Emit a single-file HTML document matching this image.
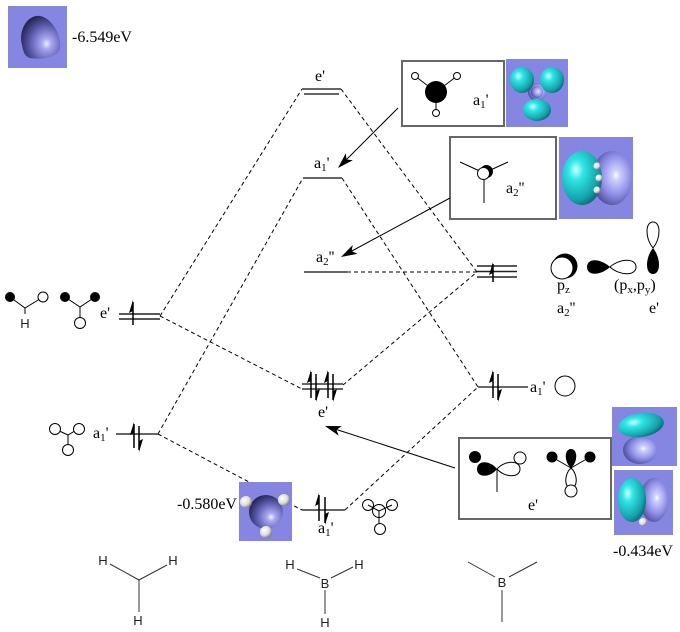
<!DOCTYPE html>
<html><head><meta charset="utf-8"><style>
html,body{margin:0;padding:0;background:#fff;}
svg{display:block;}
.t{font-family:"Liberation Serif",serif;font-size:16px;fill:#000;}
.s{font-family:"Liberation Sans",sans-serif;font-size:13px;fill:#222;}
</style></head><body>
<svg width="680" height="632" viewBox="0 0 680 632" xmlns="http://www.w3.org/2000/svg">
<defs>
<radialGradient id="cy" cx="0.35" cy="0.35" r="0.75"><stop offset="0" stop-color="#d0ffff"/><stop offset="0.25" stop-color="#30e6e6"/><stop offset="0.75" stop-color="#14a0a8"/><stop offset="1" stop-color="#0a5868"/></radialGradient>
<radialGradient id="lv" cx="0.6" cy="0.45" r="0.75"><stop offset="0" stop-color="#ffffff"/><stop offset="0.12" stop-color="#d0d0ff"/><stop offset="0.5" stop-color="#8c8ce6"/><stop offset="0.9" stop-color="#3c3c84"/><stop offset="1" stop-color="#222250"/></radialGradient>
<radialGradient id="dk" cx="0.65" cy="0.65" r="0.8"><stop offset="0" stop-color="#f0f0ff"/><stop offset="0.15" stop-color="#a8a8f4"/><stop offset="0.55" stop-color="#5858a8"/><stop offset="1" stop-color="#101030"/></radialGradient>
<radialGradient id="wb" cx="0.35" cy="0.35" r="0.7"><stop offset="0" stop-color="#ffffff"/><stop offset="0.6" stop-color="#dddddd"/><stop offset="1" stop-color="#777777"/></radialGradient>
</defs>

<!-- top-left orbital image -->
<rect x="8" y="6" width="59" height="62" fill="#8585e2"/>
<path d="M22,45 C18,30 28,14 40,16 C52,18 62,36 60,48 C58,58 40,60 30,58 C24,56 23,50 22,45 Z" fill="url(#dk)"/>
<text class="t" x="72" y="42">-6.549eV</text>

<!-- dashed connectors -->
<g stroke="#000" stroke-width="1" stroke-dasharray="4,3" fill="none">
<line x1="160" y1="316" x2="302" y2="89"/>
<line x1="341" y1="89" x2="477" y2="272"/>
<line x1="158" y1="434" x2="303" y2="178"/>
<line x1="342" y1="178" x2="478" y2="387"/>
<line x1="347" y1="272" x2="477" y2="272"/>
<line x1="160" y1="316" x2="302" y2="389"/>
<line x1="343" y1="385" x2="477" y2="272"/>
<line x1="158" y1="434" x2="302" y2="510"/>
<line x1="345" y1="510" x2="478" y2="387"/>
</g>

<!-- levels -->
<g stroke="#666" stroke-width="2" fill="none">
<line x1="302" y1="89" x2="341" y2="89"/>
<line x1="304" y1="94" x2="339" y2="94"/>
<line x1="303" y1="178" x2="342" y2="178"/>
<line x1="304" y1="272" x2="347" y2="272"/>
<line x1="302" y1="384" x2="343" y2="384"/>
<line x1="302" y1="389" x2="343" y2="389"/>
<line x1="478" y1="387" x2="528" y2="387"/>
<line x1="116" y1="434" x2="158" y2="434"/>
<line x1="302" y1="510" x2="345" y2="510"/>
</g>
<g stroke="#222" stroke-width="1.5" fill="none">
<line x1="119" y1="314" x2="160" y2="314"/>
<line x1="119" y1="319" x2="160" y2="319"/>
<line x1="477" y1="266" x2="517" y2="266"/>
<line x1="477" y1="271.5" x2="517" y2="271.5"/>
<line x1="477" y1="277" x2="517" y2="277"/>
</g>

<!-- electrons -->
<g stroke="#000" stroke-width="1.5" fill="#000">
<!-- left e' -->
<line x1="133" y1="302" x2="133" y2="325"/><polygon points="133,300 129,313 133,311" stroke="none"/>
<!-- right p -->
<line x1="493" y1="264" x2="493" y2="282"/><polygon points="493,262 489,275 493,273" stroke="none"/>
<!-- middle e' -->
<line x1="311" y1="372" x2="311" y2="398"/><polygon points="311,370 307,383 311,381" stroke="none"/>
<line x1="316" y1="374" x2="316" y2="400"/><polygon points="316,402 320,389 316,391" stroke="none"/>
<line x1="328" y1="372" x2="328" y2="398"/><polygon points="328,370 324,383 328,381" stroke="none"/>
<line x1="333" y1="374" x2="333" y2="400"/><polygon points="333,402 337,389 333,391" stroke="none"/>
<!-- right a1' -->
<line x1="493" y1="372" x2="493" y2="398"/><polygon points="493,370 489,383 493,381" stroke="none"/>
<line x1="498" y1="374" x2="498" y2="400"/><polygon points="498,402 502,389 498,391" stroke="none"/>
<!-- left a1' -->
<line x1="134" y1="424" x2="134" y2="448"/><polygon points="134,422 130,435 134,433" stroke="none"/>
<line x1="139" y1="426" x2="139" y2="450"/><polygon points="139,452 143,439 139,441" stroke="none"/>
<!-- bottom a1' -->
<line x1="319" y1="495" x2="319" y2="521"/><polygon points="319,493 315,506 319,504" stroke="none"/>
<line x1="325" y1="497" x2="325" y2="523"/><polygon points="325,525 329,512 325,514" stroke="none"/>
</g>

<!-- level labels -->
<text class="t" x="315" y="81">e'</text>
<text class="t" x="314" y="168">a<tspan font-size="11" dy="3">1</tspan><tspan dy="-3">'</tspan></text>
<text class="t" x="316" y="262">a<tspan font-size="11" dy="3">2</tspan><tspan dy="-3">''</tspan></text>
<text class="t" x="318" y="417">e'</text>
<text class="t" x="530" y="392">a<tspan font-size="11" dy="3">1</tspan><tspan dy="-3">'</tspan></text>
<text class="t" x="100" y="318">e'</text>
<text class="t" x="93" y="438">a<tspan font-size="11" dy="3">1</tspan><tspan dy="-3">'</tspan></text>
<text class="t" x="318" y="533">a<tspan font-size="11" dy="3">1</tspan><tspan dy="-3">'</tspan></text>

<!-- right a1' circle -->
<circle cx="565" cy="386" r="10" fill="#fff" stroke="#000" stroke-width="1"/>

<!-- left molecules -->
<g stroke="#000" stroke-width="1" fill="none">
<polyline points="10,297 25,308 43,297"/>
<line x1="25" y1="308" x2="25" y2="314"/>
<polyline points="65,297 80,307 95,297"/>
<line x1="80" y1="307" x2="80" y2="318"/>
<polyline points="55,429 68,435 78,429"/>
<line x1="68" y1="435" x2="68" y2="445"/>
</g>
<circle cx="10" cy="297" r="5" fill="#000"/>
<circle cx="43" cy="297" r="5" fill="#fff" stroke="#000"/>
<text class="s" x="25" y="328" text-anchor="middle">H</text>
<circle cx="65" cy="297" r="5" fill="#000"/>
<circle cx="95" cy="297" r="5" fill="#000"/>
<circle cx="80" cy="323" r="5.5" fill="#fff" stroke="#000"/>
<circle cx="55" cy="429" r="5.5" fill="#fff" stroke="#000"/>
<circle cx="79" cy="429" r="5.5" fill="#fff" stroke="#000"/>
<circle cx="68" cy="450" r="5.5" fill="#fff" stroke="#000"/>

<!-- a1' box -->
<rect x="402" y="61" width="102" height="65" fill="#fff" stroke="#666" stroke-width="2"/>
<g stroke="#000" stroke-width="1"><line x1="415" y1="76" x2="436" y2="92"/><line x1="457" y1="76" x2="436" y2="92"/><line x1="436" y1="92" x2="436" y2="113"/></g>
<circle cx="436" cy="92" r="11" fill="#000"/>
<circle cx="415" cy="76" r="3.5" fill="#fff" stroke="#000"/>
<circle cx="457" cy="76" r="3.5" fill="#fff" stroke="#000"/>
<circle cx="436" cy="113" r="3.5" fill="#fff" stroke="#000"/>
<text class="t" x="473" y="105">a<tspan font-size="11" dy="3">1</tspan><tspan dy="-3">'</tspan></text>
<!-- a1' orbital image -->
<rect x="506" y="59" width="62" height="68" fill="#8585e2"/>
<ellipse cx="537" cy="92" rx="9" ry="9" fill="url(#lv)"/>
<ellipse cx="522" cy="80" rx="12" ry="13" fill="url(#cy)"/>
<ellipse cx="552" cy="80" rx="12" ry="13" fill="url(#cy)"/>
<ellipse cx="537" cy="110" rx="14" ry="11" fill="url(#cy)"/>
<ellipse cx="537" cy="92" rx="6" ry="6" fill="url(#lv)"/>

<!-- a2'' box -->
<rect x="450" y="137" width="106" height="82" fill="#fff" stroke="#666" stroke-width="2"/>
<g stroke="#000" stroke-width="1"><line x1="460" y1="162" x2="484" y2="173"/><line x1="508" y1="162" x2="484" y2="173"/><line x1="484" y1="173" x2="484" y2="203"/></g>
<circle cx="486.5" cy="171.5" r="6.5" fill="#000"/>
<circle cx="483.5" cy="173.5" r="6" fill="#fff" stroke="#000"/>
<text class="t" x="506" y="193">a<tspan font-size="11" dy="3">2</tspan><tspan dy="-3">''</tspan></text>
<!-- a2'' orbital image -->
<rect x="559" y="137" width="74" height="82" fill="#8585e2"/>
<ellipse cx="612" cy="178" rx="20" ry="27" fill="url(#lv)"/>
<ellipse cx="582" cy="178" rx="20" ry="27" fill="url(#cy)"/>
<circle cx="597" cy="166" r="3.5" fill="url(#wb)"/>
<circle cx="599" cy="178" r="3.5" fill="url(#wb)"/>
<circle cx="597" cy="190" r="3.5" fill="url(#wb)"/>

<!-- p orbitals right -->
<circle cx="565" cy="266" r="12.5" fill="#000"/>
<circle cx="562" cy="268" r="11" fill="#fff" stroke="#000"/>
<path d="M610,267 C600,258 587,258 587,267 C587,276 600,276 610,267 Z" fill="#000"/>
<path d="M610,267 C620,258 636,258 636,267 C636,276 620,276 610,267 Z" fill="#fff" stroke="#000"/>
<path d="M653,248 C645,238 645,222 653,222 C661,222 661,238 653,248 Z" fill="#fff" stroke="#000"/>
<path d="M653,248 C645,258 645,274 653,274 C661,274 661,258 653,248 Z" fill="#000"/>
<text class="t" x="557" y="290">p<tspan font-size="11" dy="3">z</tspan></text>
<text class="t" x="614" y="290">(p<tspan font-size="11" dy="3">x</tspan><tspan dy="-3">,p</tspan><tspan font-size="11" dy="3">y</tspan><tspan dy="-3">)</tspan></text>
<text class="t" x="557" y="313">a<tspan font-size="11" dy="3">2</tspan><tspan dy="-3">''</tspan></text>
<text class="t" x="649" y="313">e'</text>

<!-- e' box -->
<rect x="459" y="438" width="152" height="81" fill="#fff" stroke="#666" stroke-width="2"/>
<line x1="497" y1="469" x2="497" y2="492" stroke="#000"/>
<circle cx="475" cy="457" r="6" fill="#000"/>
<path d="M497,469 C490,460 477,460 477,469 C477,478 490,478 497,469 Z" fill="#000"/>
<path d="M497,469 C505,460 520,460 520,469 C520,478 505,478 497,469 Z" fill="#fff" stroke="#000"/>
<circle cx="520" cy="458" r="6" fill="#fff" stroke="#000"/>
<g stroke="#000" stroke-width="1"><line x1="552" y1="457" x2="571" y2="468"/><line x1="590" y1="457" x2="571" y2="468"/></g>
<circle cx="552" cy="457" r="5.5" fill="#000"/>
<circle cx="590" cy="457" r="5.5" fill="#000"/>
<path d="M571,468 C564,462 564,449 571,449 C578,449 578,462 571,468 Z" fill="#000"/>
<path d="M571,468 C564,474 564,488 571,488 C578,488 578,474 571,468 Z" fill="#fff" stroke="#000"/>
<circle cx="571" cy="491" r="6" fill="#fff" stroke="#000"/>
<text class="t" x="528" y="510">e'</text>
<!-- e' orbital images -->
<rect x="612" y="407" width="65" height="59" fill="#8585e2"/>
<ellipse cx="640" cy="450" rx="17" ry="14" fill="url(#lv)"/>
<ellipse cx="641" cy="425" rx="23" ry="12" fill="url(#cy)" transform="rotate(-8 641 425)"/>
<rect x="614" y="470" width="59" height="65" fill="#8585e2"/>
<ellipse cx="654" cy="500" rx="14" ry="22" fill="url(#lv)"/>
<ellipse cx="632" cy="500" rx="14" ry="22" fill="url(#cy)"/>
<circle cx="643" cy="522" r="4" fill="url(#wb)"/>
<text class="t" x="613" y="556">-0.434eV</text>

<!-- bottom a1' orbital image -->
<rect x="239" y="482" width="53" height="59" fill="#8585e2"/>
<circle cx="266" cy="512" r="17" fill="url(#dk)"/>
<circle cx="246" cy="502" r="6" fill="url(#wb)"/>
<circle cx="284" cy="500" r="6" fill="url(#wb)"/>
<circle cx="266" cy="532" r="6" fill="url(#wb)"/>
<text class="t" x="177" y="509">-0.580eV</text>

<!-- bottom small trio -->
<g stroke="#000" stroke-width="1" fill="#fff">
<circle cx="368" cy="505" r="5.5"/>
<circle cx="392" cy="505" r="5.5"/>
<circle cx="380" cy="529" r="5.5"/>
<circle cx="379" cy="511" r="6.5" fill="none"/>
<line x1="368" y1="505" x2="379" y2="511"/><line x1="392" y1="505" x2="379" y2="511"/><line x1="379" y1="511" x2="379" y2="523"/>
</g>

<!-- solid arrows -->
<g stroke="#000" stroke-width="1">
<line x1="398" y1="108" x2="345" y2="161"/>
<line x1="450" y1="198" x2="350" y2="252"/>
<line x1="455" y1="468" x2="335" y2="429"/>
</g>
<polygon points="338,168 352.8,160.2 346.5,159.5 345.8,153.2" fill="#000"/>
<polygon points="341,257 357.5,253.8 351.6,251.3 352.7,245.0" fill="#000"/>
<polygon points="325,426 341.8,426.1 336.4,429.7 338.7,435.7" fill="#000"/>

<!-- bottom molecules -->
<g stroke="#333" stroke-width="1" fill="none">
<polyline points="110,564 139,580 167,565"/>
<line x1="139" y1="580" x2="139" y2="612"/>
<line x1="297" y1="569" x2="320" y2="578"/>
<line x1="331" y1="578" x2="353" y2="567"/>
<line x1="325" y1="590" x2="325" y2="614"/>
<line x1="468" y1="562" x2="495" y2="577"/>
<line x1="509" y1="577" x2="537" y2="562"/>
<line x1="502" y1="590" x2="502" y2="622"/>
</g>
<text class="s" x="103" y="565" text-anchor="middle">H</text>
<text class="s" x="173" y="565" text-anchor="middle">H</text>
<text class="s" x="138" y="625" text-anchor="middle">H</text>
<text class="s" x="290" y="569" text-anchor="middle">H</text>
<text class="s" x="359" y="569" text-anchor="middle">H</text>
<text class="s" x="325" y="588" text-anchor="middle">B</text>
<text class="s" x="325" y="627" text-anchor="middle">H</text>
<text class="s" x="502" y="587" text-anchor="middle">B</text>
</svg>
</body></html>
